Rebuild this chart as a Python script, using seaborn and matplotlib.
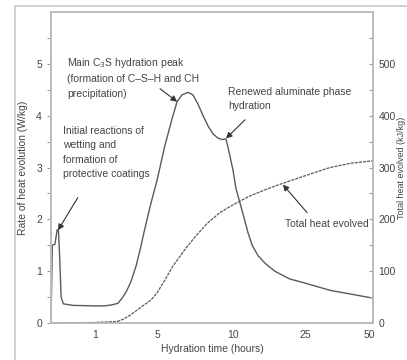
import numpy as np
import matplotlib
matplotlib.use("Agg")
import matplotlib.pyplot as plt
from matplotlib.patches import Rectangle
import pandas as pd
import seaborn as sns

# rate of heat evolution (W/kg) vs hydration time (hours)
rate_hours = [0.0, 0.03, 0.09, 0.14, 0.17, 0.2, 0.23, 0.28, 0.5, 1.0, 1.6, 2.1, 2.48,
              2.8, 3.06, 3.32, 3.65, 3.9, 4.2, 4.6, 5.0, 5.5, 6.0, 6.32, 6.64,
              7.04, 7.37, 7.7, 8.03, 8.36, 8.68, 9.0, 9.28, 9.54, 9.74, 10.0,
              10.6, 12.1, 13.1, 14.0, 15.2, 16.7, 18.7, 21.8, 25.0, 34.8, 42.6, 51.6]
rate_values = [0.0, 1.5, 1.52, 1.8, 1.78, 1.2, 0.5, 0.37, 0.34, 0.33, 0.33, 0.35, 0.38,
               0.5, 0.63, 0.8, 1.1, 1.4, 1.8, 2.3, 2.75, 3.4, 3.95, 4.27, 4.4,
               4.45, 4.4, 4.22, 4.0, 3.8, 3.65, 3.57, 3.54, 3.55, 3.3, 2.95,
               2.6, 2.1, 1.75, 1.5, 1.3, 1.15, 1.0, 0.85, 0.77, 0.63, 0.56, 0.48]

# total heat evolved (kJ/kg)
heat_hours = [0.0, 1.0, 2.45, 2.8, 3.26, 3.58, 3.9, 4.6, 5.0, 5.5, 6.05, 6.84, 7.5,
              8.29, 9.14, 10.0, 13.5, 16.7, 19.6, 25.0, 34.8, 42.6, 51.6]
heat_values = [0.0, 1.0, 3.0, 7.0, 15.0, 22.0, 29.0, 44.0, 58.0, 82.0, 110.0, 142.0, 166.0,
               192.0, 213.0, 228.0, 245.0, 257.0, 267.0, 284.0, 300.0, 308.0, 313.0]

x_ticks = [1, 5, 10, 25, 50]
# piecewise axis used by the original figure
scale_hours = [0.0, 1.0, 5.0, 10.0, 25.0, 50.0, 51.6]
scale_pos = [0.0, 44.0, 106.0, 182.0, 254.0, 318.0, 322.0]


def fwd(h):
    return np.interp(h, scale_hours, scale_pos)


def inv(p):
    return np.interp(p, scale_pos, scale_hours)


sns.set_style("white")
plt.rcParams['font.family'] = ['Liberation Sans Narrow', 'Liberation Sans', 'DejaVu Sans']

line_c = '#5a5a5a'
text_c = '#444444'
fs = 7.5

fig = plt.figure(figsize=(4.07, 3.6), dpi=100)
ax = fig.add_axes([51 / 407, 1 - 323 / 360, 322 / 407, 311 / 360])
ax.set_xscale('function', functions=(fwd, inv))
ax2 = ax.twinx()

rate_df = pd.DataFrame({'hours': rate_hours, 'rate': rate_values})
heat_df = pd.DataFrame({'hours': heat_hours, 'heat': heat_values})

sns.lineplot(data=rate_df, x='hours', y='rate', ax=ax, color=line_c, lw=1.0,
             sort=False, estimator=None)
sns.lineplot(data=heat_df, x='hours', y='heat', ax=ax2, color=line_c, lw=0.9,
             linestyle=(0, (2.5, 0.8)), sort=False, estimator=None)

ax.set_xlim(0, 51.6)
ax.set_ylim(0, 6)
ax2.set_ylim(0, 600)
ax.set_xticks(x_ticks)
ax.set_xticklabels([str(t) for t in x_ticks])
ax.set_yticks(range(0, 6))
ax.set_yticks(np.arange(0.5, 6, 1.0), minor=True)
ax2.set_yticks(range(0, 600, 100))
ax2.set_yticks(range(50, 600, 100), minor=True)

for a in (ax, ax2):
    for s in a.spines.values():
        s.set_color('#bbbbbb')
        s.set_linewidth(1.2)
ax.tick_params(axis='x', length=0, labelsize=fs, colors=text_c, pad=5)
ax.tick_params(axis='y', which='both', direction='out', length=3, width=0.8,
               color='#999999', labelsize=fs, labelcolor=text_c, left=True)
ax2.tick_params(axis='y', which='both', direction='in', length=3, width=0.8,
                color='#999999', labelsize=fs, labelcolor=text_c, right=True, pad=4)

ax.set_xlabel('Hydration time (hours)', fontsize=fs, color=text_c, labelpad=3)
ax.set_ylabel('Rate of heat evolution (W/kg)', fontsize=fs, color=text_c, labelpad=6)
ax2.set_ylabel('Total heat evolved (kJ/kg)', fontsize=6.5, color=text_c,
               rotation=90, va='center', ha='center')
ax2.yaxis.set_label_coords((401 - 51) / 322, 0.5)

# annotations
arrow = dict(arrowstyle='-|>,head_length=0.35,head_width=0.18', color='#333333',
             lw=0.8, shrinkA=0, shrinkB=0)
ax.annotate('', xy=(0.16, 1.79), xytext=(0.61, 2.42), arrowprops=arrow)
ax.annotate('', xy=(6.32, 4.27), xytext=(5.2, 4.52), arrowprops=arrow)
ax.annotate('', xy=(9.54, 3.56), xytext=(12.5, 3.92), arrowprops=arrow)
ax2.annotate('', xy=(20.4, 267), xytext=(25.8, 213), arrowprops=arrow)

txt = dict(fontsize=fs, color=text_c, ha='left', va='top', linespacing=1.55)
fig.text(67 / 407, 1 - 56 / 360,
         'Main C$_3$S hydration peak\n(formation of C\u2013S\u2013H and CH\nprecipitation)',
         **txt)
fig.text(63 / 407, 1 - 126 / 360,
         'Initial reactions of\nwetting and\nformation of\nprotective coatings', **txt)
fig.text(228 / 407, 1 - 87 / 360, 'Renewed aluminate phase\nhydration', **txt)
fig.text(285 / 407, 1 - 219 / 360, 'Total heat evolved', **txt)

# scan border
fig.add_artist(Rectangle((15 / 407, -0.1), 1.2, 0.1 + (360 - 6) / 360,
                         transform=fig.transFigure, fill=False,
                         edgecolor='#c8c8c8', lw=1.2))

fig.savefig('out.png', dpi=100)
